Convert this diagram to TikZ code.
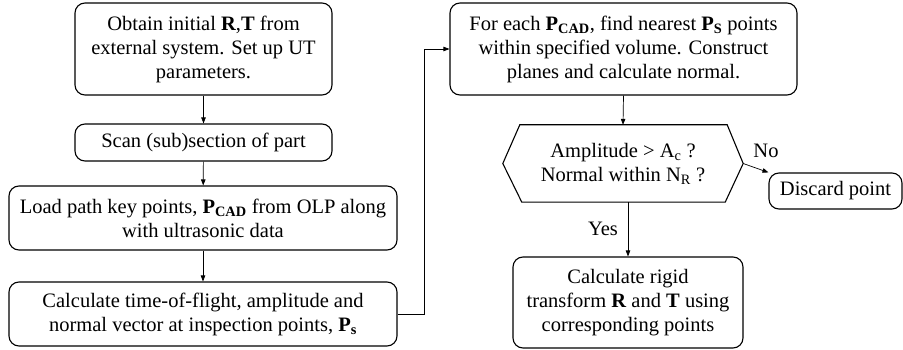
\documentclass[tikz,border=0pt]{standalone}
\usepackage{fontspec}
\setmainfont{Liberation Serif}
\usetikzlibrary{arrows.meta,calc}
\begin{document}
\begin{tikzpicture}[x=1pt,y=-1pt,
  box/.style={draw,rounded corners=10pt,line width=1.1pt,align=center,inner sep=0pt,font=\fontsize{20.5}{24}\selectfont},
  arr/.style={-{Triangle[length=6pt,width=4.5pt]},line width=0.7pt},
  lbl/.style={font=\fontsize{20.5}{24}\selectfont,inner sep=0pt}]
\useasboundingbox (0,0) rectangle (903,350);
\node[box,minimum width=257pt,minimum height=92pt] (b1) at (203.5,49) {Obtain initial \textbf{R},\textbf{T} from\\external system. Set up UT\\parameters.};
\node[box,minimum width=257pt,minimum height=37pt] (b2) at (203.5,142.5) {Scan (sub)section of part};
\node[box,minimum width=388pt,minimum height=64pt] (b3) at (203,218) {Load path key points, \textbf{P\textsubscript{CAD}} from OLP along\\with ultrasonic data};
\node[box,minimum width=388pt,minimum height=64pt] (b4) at (203,314) {Calculate time-of-flight, amplitude and\\normal vector at inspection points, \textbf{P\textsubscript{s}}};
\node[box,minimum width=347pt,minimum height=92pt] (b5) at (623.5,49) {For each \textbf{P\textsubscript{CAD}}, find nearest \textbf{P\textsubscript{S}} points\\within specified volume. Construct\\planes and calculate normal.};
\node[minimum width=240pt,minimum height=77pt,inner sep=0pt,align=center,font=\fontsize{20.5}{24}\selectfont] (hex) at (623,163.5) {Amplitude \textgreater{} A\textsubscript{c} ?\\Normal within N\textsubscript{R} ?};
\draw[line width=1.1pt] ($(hex.north west)+(17,0)$) -- ($(hex.north east)+(-16,0)$) -- (hex.east) -- ($(hex.south east)+(-18,0)$) -- ($(hex.south west)+(19,0)$) -- (hex.west) -- cycle;
\node[box,minimum width=133pt,minimum height=36pt] (b6) at (835.5,191) {Discard point};
\node[box,minimum width=230pt,minimum height=91pt] (b7) at (628,302.5) {Calculate rigid\\transform \textbf{R} and \textbf{T} using\\corresponding points};
\coordinate (c1) at (424,314);
\coordinate (c2) at (424,49);
\draw[arr] (b1) -- (b2);
\draw[arr] (b2) -- (b3);
\draw[arr] (b3) -- (b4);
\draw[arr] (b4.east) -- (c1) -- (c2) -- (b5.west);
\draw[arr] (b5.south) -- (hex.north);
\draw[arr] (hex.east) -- (b6.north west);
\draw[arr] (hex.south -| b7.north) -- (b7.north);
\node[lbl] (no) at (766,151) {No};
\node[lbl] (yes) at (603,229) {Yes};
\end{tikzpicture}
\end{document}
